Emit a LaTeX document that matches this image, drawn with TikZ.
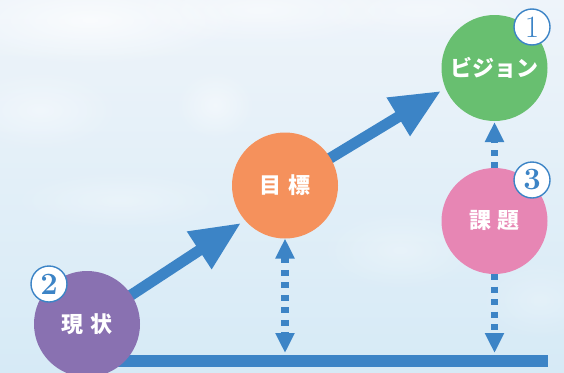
\documentclass[tikz,border=0pt]{standalone}
\usepackage{fontspec}
\newfontfamily\jp{Noto Sans CJK JP}
\usetikzlibrary{arrows.meta,fadings}
\definecolor{arrowblue}{RGB}{60,132,198}
\definecolor{cpurple}{RGB}{137,113,177}
\definecolor{corange}{RGB}{245,145,92}
\definecolor{cgreen}{RGB}{104,191,112}
\definecolor{cpink}{RGB}{231,134,180}
\definecolor{skytop}{RGB}{238,244,250}
\definecolor{skybot}{RGB}{214,234,246}
\tikzfading[name=softblob, inner color=transparent!0, outer color=transparent!100]
\pgfdeclarelayer{sky}
\pgfdeclarelayer{links}
\pgfsetlayers{sky,links,main}
\tikzset{
  bubble/.style={circle, minimum size=106pt, inner sep=0pt, outer sep=0pt, text=white,
    font=\jp\bfseries\fontsize{22pt}{22pt}\selectfont},
  numcircle/.style={circle, minimum size=36pt, inner sep=0pt, fill=white, draw=arrowblue,
    line width=1.4pt, text=arrowblue, font=\fontsize{31pt}{31pt}\selectfont},
  bigarrow/.style={draw=arrowblue, line width=11pt, -{Triangle[length=50pt,width=42pt]}},
  dotline/.style={draw=arrowblue, line width=7.5pt, dash pattern=on 6pt off 6.5pt},
  barstyle/.style={fill=arrowblue, minimum width=450pt, minimum height=12pt, inner sep=0pt, outer sep=0pt, anchor=east},
  cloud/.style={fill=white, path fading=softblob}
}
\begin{document}
\begin{tikzpicture}[x=1pt,y=-1pt]
\useasboundingbox (0,0) rectangle (564,372);
\begin{pgfonlayer}{sky}
  \shade[top color=skytop, bottom color=skybot] (0,0) rectangle (564,372);
  \fill[cloud, opacity=0.7] (90,20) ellipse (150pt and 45pt);
  \fill[cloud, opacity=0.5] (260,10) ellipse (140pt and 35pt);
  \fill[cloud, opacity=0.4] (40,110) ellipse (80pt and 40pt);
  \fill[cloud, opacity=0.45] (215,105) ellipse (40pt and 35pt);
  \fill[cloud, opacity=0.35] (420,10) ellipse (120pt and 30pt);
  \fill[cloud, opacity=0.3] (120,200) ellipse (110pt and 30pt);
  \fill[cloud, opacity=0.3] (400,250) ellipse (80pt and 40pt);
  \fill[cloud, opacity=0.25] (540,300) ellipse (60pt and 40pt);
\end{pgfonlayer}

\node[barstyle] (bar) at (548,361) {};

\node[bubble, fill=cpurple] (genjo) at (87,324) {現\hspace{0.3em}状};
\node[bubble, fill=corange] (mokuhyo) at (285,185.5) {目\hspace{0.3em}標};
\node[bubble, fill=cgreen] (vision) at (494.5,68) {ビジョン};
\node[bubble, fill=cpink] (kadai) at (494.5,221) {課\hspace{0.3em}題};

\node[numcircle] (n1) at (532,27) {1};
\node[numcircle] (n2) at (49,284) {\bfseries 2};
\node[numcircle] (n3) at (532,180) {\bfseries 3};

\coordinate (t1) at (241,223);
\coordinate (t2) at (441,91);

\begin{pgfonlayer}{links}
  \draw[bigarrow] (genjo.center) -- (t1);
  \draw[bigarrow] (mokuhyo.center) -- (t2);
  \draw[dotline, {Triangle[length=20pt,width=18pt]}-{Triangle[length=20pt,width=18pt]}, shorten >=2pt]
    (mokuhyo.south) -- (mokuhyo.south |- bar.north);
  \draw[dotline, -{Triangle[length=20pt,width=18pt]}, shorten >=1pt] (kadai.north) -- (vision.south);
  \draw[dotline, -{Triangle[length=20pt,width=18pt]}, shorten >=2pt]
    (kadai.south) -- (kadai.south |- bar.north);
\end{pgfonlayer}
\end{tikzpicture}
\end{document}
